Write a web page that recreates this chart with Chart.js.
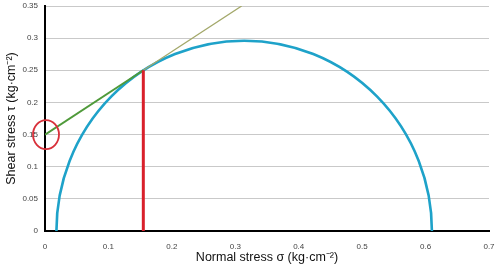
<!DOCTYPE html>
<html>
<head>
<meta charset="utf-8">
<script src="https://cdn.jsdelivr.net/npm/chart.js@4"></script>
<style>
  html, body { margin: 0; padding: 0; background: #fff; }
  #wrap { width: 498px; height: 265px; }
</style>
</head>
<body>
<div id="wrap"><canvas id="mohrChart" width="498" height="265"></canvas></div>
<script>
// 軸の目盛り
const xTicks = [0, 0.1, 0.2, 0.3, 0.4, 0.5, 0.6, 0.7];
const yTicks = [0, 0.05, 0.1, 0.15, 0.2, 0.25, 0.3, 0.35];

// モール円（主応力）
const sigma3 = 0.018;
const sigma1 = 0.61;

// 破壊包絡線
const envelopeX = [0, 0.155];
const envelopeY = [0.15, 0.25];
const extensionX = [0.155, 0.31];
const extensionY = [0.25, 0.35];

// 接点の垂線
const contactX = [0.155, 0.155];
const contactY = [0, 0.25];

// 粘着力（切片）
const cohesion = { x: 0, y: 0.15 };

function toPoints(xs, ys) {
    return xs.map((x, i) => ({ x: x, y: ys[i] }));
}

const mohrCircle = {
    id: 'mohrCircle',
    beforeDatasetsDraw(chart) {
        const { ctx, scales: { x, y }, chartArea } = chart;
        const c = (sigma1 + sigma3) / 2;
        const r = (sigma1 - sigma3) / 2;
        const cx = x.getPixelForValue(c);
        const cy = y.getPixelForValue(0);
        const rx = x.getPixelForValue(c + r) - cx;
        const ry = cy - y.getPixelForValue(r);
        ctx.save();
        ctx.beginPath();
        ctx.rect(chartArea.left, chartArea.top, chartArea.width, chartArea.height);
        ctx.clip();
        ctx.beginPath();
        ctx.ellipse(cx, cy, rx, ry, 0, Math.PI, 2 * Math.PI);
        ctx.strokeStyle = '#1ea2c9';
        ctx.lineWidth = 2.6;
        ctx.stroke();
        ctx.restore();
    },
    afterDraw(chart) {
        const { ctx, scales: { x, y } } = chart;
        const px = x.getPixelForValue(cohesion.x);
        const py = y.getPixelForValue(cohesion.y);
        ctx.save();
        ctx.beginPath();
        ctx.ellipse(px + 1, py, 13, 14.5, 0, 0, 2 * Math.PI);
        ctx.strokeStyle = '#d8303a';
        ctx.lineWidth = 1.8;
        ctx.stroke();
        ctx.restore();
    }
};

const ctx = document.getElementById('mohrChart').getContext('2d');
const sans = "'Liberation Sans', Arial, sans-serif";

new Chart(ctx, {
    type: 'scatter',
    data: {
        datasets: [
            {
                data: toPoints(contactX, contactY),
                showLine: true,
                borderColor: '#d9202b',
                borderWidth: 3,
                pointRadius: 0
            },
            {
                data: toPoints(extensionX, extensionY),
                showLine: true,
                borderColor: '#a3a86a',
                borderWidth: 1.3,
                pointRadius: 0
            },
            {
                data: toPoints(envelopeX, envelopeY),
                showLine: true,
                borderColor: '#4f9a3a',
                borderWidth: 2,
                pointRadius: 0
            }
        ]
    },
    options: {
        responsive: false,
        animation: false,
        layout: { padding: { top: 6, right: 9, left: 0, bottom: 0 } },
        plugins: {
            legend: { display: false },
            tooltip: { enabled: false }
        },
        scales: {
            x: {
                type: 'linear',
                min: 0,
                max: 0.7,
                afterBuildTicks: axis => { axis.ticks = xTicks.map(v => ({ value: v })); },
                afterFit: axis => {
                    axis.height = 34;
                    axis.paddingLeft = 0;
                    axis.paddingRight = 0;
                },
                grid: { display: false },
                border: { display: true, color: '#000', width: 2 },
                ticks: {
                    color: '#444',
                    font: { family: sans, size: 8 },
                    padding: 3,
                    maxRotation: 0,
                    callback: v => String(v)
                },
                title: {
                    display: true,
                    text: 'Normal stress σ (kg·cm⁻²)',
                    color: '#111',
                    font: { family: sans, size: 12.5 },
                    padding: { top: 3, bottom: 0 }
                }
            },
            y: {
                type: 'linear',
                min: 0,
                max: 0.35,
                afterBuildTicks: axis => { axis.ticks = yTicks.map(v => ({ value: v })); },
                afterFit: axis => {
                    axis.width = 45;
                    axis.paddingTop = 0;
                    axis.paddingBottom = 0;
                },
                grid: { color: '#c9c9c9', lineWidth: 1, drawTicks: false },
                border: { display: true, color: '#000', width: 2 },
                ticks: {
                    color: '#444',
                    font: { family: sans, size: 8 },
                    padding: 7,
                    callback: v => String(v)
                },
                title: {
                    display: true,
                    text: 'Shear stress τ (kg·cm⁻²)',
                    color: '#111',
                    font: { family: sans, size: 12.5 },
                    padding: { top: 4, bottom: 2 }
                }
            }
        }
    },
    plugins: [mohrCircle]
});
</script>
</body>
</html>
